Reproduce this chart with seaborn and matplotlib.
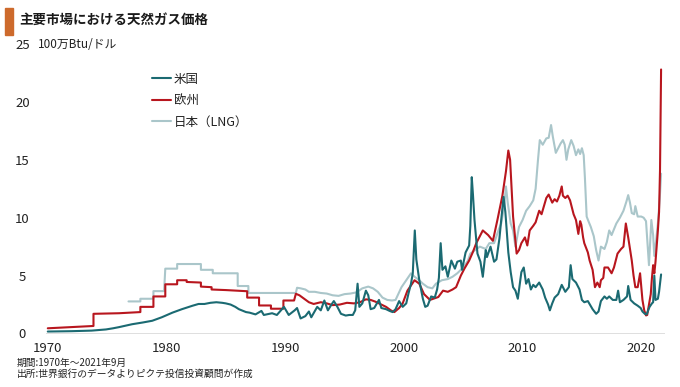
import matplotlib
matplotlib.use("Agg")
import matplotlib.pyplot as plt
from matplotlib.patches import Rectangle
import pandas as pd
import seaborn as sns

# ---------------- data ----------------
title = "主要市場における天然ガス価格"
unit_label = "100万Btu/ドル"
footer_period = "期間:1970年～2021年9月"
footer_source = "出所:世界銀行のデータよりピクテ投信投資顧問が作成"
series_names = ["米国", "欧州", "日本（LNG）"]
x_ticks = [1970, 1980, 1990, 2000, 2010, 2020]
y_ticks = [0, 5, 10, 15, 20, 25]

us_year = [1970.0, 1972.0, 1973.7, 1974.9, 1975.5, 1976.0, 1977.1, 1978.0, 1978.8, 1979.6,
           1980.5, 1981.3, 1982.2, 1982.7, 1983.2, 1983.7, 1984.2, 1984.7, 1985.0, 1985.4,
           1985.8, 1986.1, 1986.7, 1987.0, 1987.5, 1988.0, 1988.2, 1988.9, 1989.3, 1989.9,
           1990.3, 1990.8, 1991.0, 1991.3, 1991.7, 1992.0, 1992.2, 1992.7, 1993.0, 1993.3,
           1993.6, 1993.9, 1994.1, 1994.4, 1994.7, 1995.1, 1995.4, 1995.7, 1995.9, 1996.1,
           1996.25, 1996.5, 1996.8, 1997.0, 1997.2, 1997.5, 1997.9, 1998.1, 1998.5, 1998.8,
           1999.05, 1999.3, 1999.6, 1999.9, 2000.2, 2000.4, 2000.6, 2000.75, 2000.92, 2001.05,
           2001.3, 2001.6, 2001.8, 2002.0, 2002.3, 2002.6, 2002.8, 2002.95, 2003.1, 2003.25,
           2003.5, 2003.7, 2004.0, 2004.3, 2004.5, 2004.8, 2004.9, 2005.2, 2005.5, 2005.6,
           2005.72, 2005.82, 2005.95, 2006.2, 2006.45, 2006.65, 2006.9, 2007.0, 2007.3, 2007.6,
           2007.8, 2008.05, 2008.2, 2008.4, 2008.55, 2008.8, 2009.0, 2009.2, 2009.4, 2009.6,
           2009.9, 2010.1, 2010.3, 2010.5, 2010.7, 2010.9, 2011.1, 2011.4, 2011.7, 2011.9,
           2012.15, 2012.3, 2012.5, 2012.7, 2013.0, 2013.3, 2013.6, 2013.9, 2014.05, 2014.2,
           2014.5, 2014.8, 2015.0, 2015.2, 2015.5, 2015.9, 2016.2, 2016.4, 2016.6, 2016.9,
           2017.1, 2017.3, 2017.6, 2017.9, 2018.05, 2018.2, 2018.5, 2018.8, 2018.9, 2019.1,
           2019.4, 2019.7, 2019.95, 2020.1, 2020.3, 2020.45, 2020.7, 2020.9, 2021.0, 2021.1,
           2021.2, 2021.4, 2021.5, 2021.67]
us_price = [0.17, 0.2, 0.25, 0.35, 0.45, 0.55, 0.8, 0.95, 1.1, 1.4,
            1.8, 2.1, 2.4, 2.55, 2.55, 2.65, 2.7, 2.65, 2.6, 2.5,
            2.3, 2.1, 1.85, 1.8, 1.65, 1.95, 1.6, 1.75, 1.6, 2.3,
            1.6, 2.0, 2.2, 1.3, 1.5, 1.9, 1.4, 2.3, 2.0, 2.85,
            2.0, 2.5, 2.8, 2.3, 1.7, 1.55, 1.6, 1.6, 2.0, 4.3,
            2.3, 2.6, 3.7, 3.3, 2.1, 2.2, 2.9, 2.2, 2.1, 1.95,
            1.85, 2.1, 2.8, 2.3, 2.6, 3.5, 4.3, 5.2, 8.9, 6.4,
            4.6, 3.0, 2.3, 2.4, 3.2, 3.1, 3.8, 4.8, 7.8, 5.5,
            5.8, 4.9, 6.3, 5.6, 6.2, 6.3, 5.5, 7.0, 7.6, 9.3,
            13.5, 12.0, 9.8, 6.9, 6.2, 4.9, 7.2, 6.6, 7.5, 6.2,
            6.4, 8.2, 9.8, 11.8, 10.5, 7.0, 5.3, 4.0, 3.7, 3.0,
            5.3, 5.7, 4.3, 4.7, 3.8, 4.2, 4.0, 4.4, 3.8, 3.1,
            2.5, 2.0, 2.6, 3.1, 3.4, 4.2, 3.6, 4.0, 5.9, 4.7,
            4.4, 3.8, 2.9, 2.7, 2.8, 2.1, 1.7, 1.9, 2.8, 3.2,
            3.0, 3.2, 2.9, 2.9, 3.7, 2.7, 2.9, 3.2, 4.1, 2.9,
            2.6, 2.4, 2.2, 1.9, 1.7, 1.65, 2.3, 2.6, 2.7, 5.0,
            2.9, 3.0, 3.6, 5.1]

eu_year = [1970.0, 1973.0, 1973.85, 1973.85, 1976.0, 1977.8, 1977.8, 1978.9, 1978.9, 1979.9,
           1979.9, 1980.9, 1980.9, 1981.7, 1981.7, 1982.9, 1982.9, 1983.8, 1983.8, 1985.0,
           1986.8, 1986.8, 1987.8, 1987.8, 1988.8, 1988.8, 1989.85, 1989.85, 1990.75, 1990.9,
           1991.2, 1991.6, 1992.0, 1992.4, 1993.0, 1993.5, 1994.0, 1994.6, 1995.2, 1995.8,
           1996.3, 1996.8, 1997.2, 1997.6, 1998.0, 1998.5, 1998.9, 1999.2, 1999.6, 1999.9,
           2000.3, 2000.9, 2001.3, 2001.7, 2002.2, 2002.9, 2003.3, 2003.7, 2004.1, 2004.4,
           2004.8, 2005.1, 2005.5, 2005.8, 2006.1, 2006.65, 2007.1, 2007.5, 2007.9, 2008.3,
           2008.6, 2008.8, 2008.95, 2009.2, 2009.5, 2009.7, 2009.9, 2010.2, 2010.4, 2010.6,
           2010.9, 2011.1, 2011.4, 2011.6, 2011.8, 2012.0, 2012.2, 2012.5, 2012.7, 2012.9,
           2013.1, 2013.3, 2013.4, 2013.6, 2013.8, 2014.0, 2014.3, 2014.5, 2014.7, 2014.85,
           2014.95, 2015.1, 2015.2, 2015.5, 2015.65, 2015.9, 2016.1, 2016.3, 2016.5, 2016.6,
           2016.8, 2016.9, 2017.2, 2017.5, 2017.7, 2018.0, 2018.3, 2018.5, 2018.7, 2018.9,
           2019.2, 2019.35, 2019.5, 2019.7, 2019.9, 2020.1, 2020.25, 2020.4, 2020.5, 2020.65,
           2020.8, 2020.9, 2021.0, 2021.1, 2021.2, 2021.4, 2021.5, 2021.58, 2021.67]
eu_price = [0.45, 0.6, 0.65, 1.7, 1.75, 1.85, 2.3, 2.3, 3.2, 3.2,
            4.25, 4.25, 4.6, 4.6, 4.45, 4.4, 4.05, 4.0, 3.8, 3.75,
            3.65, 3.1, 3.1, 2.42, 2.42, 2.14, 2.14, 2.85, 2.85, 3.43,
            3.3, 3.0, 2.7, 2.55, 2.7, 2.6, 2.45, 2.5, 2.65, 2.6,
            2.7, 2.95, 2.9, 2.75, 2.55, 2.3, 2.0, 1.85, 2.2, 2.6,
            3.7, 4.6, 4.3, 3.4, 2.9, 3.15, 3.7, 3.6, 3.8, 4.0,
            5.0, 5.6, 6.3, 7.0, 7.8, 8.9, 8.5, 8.0, 9.9, 11.9,
            14.0, 15.8, 15.0, 10.1, 6.9, 7.2, 7.8, 8.3, 7.6, 8.9,
            9.3, 9.6, 10.6, 10.3, 11.0, 11.7, 12.0, 11.3, 11.6, 11.4,
            11.9, 12.7, 11.9, 11.7, 11.9, 11.5, 10.3, 9.8, 8.6, 9.7,
            9.4, 8.3, 7.8, 7.0, 6.3, 5.5, 4.0, 4.4, 4.0, 4.6,
            4.8, 5.7, 5.7, 5.2, 5.7, 6.9, 7.3, 7.5, 9.5, 8.3,
            6.3, 5.0, 4.0, 4.0, 5.2, 2.9, 2.0, 1.56, 1.6, 2.5,
            3.4, 4.8, 5.9, 5.2, 6.2, 8.9, 10.5, 14.1, 22.8]

jp_year = [1976.8, 1977.8, 1977.8, 1978.9, 1978.9, 1979.8, 1979.9, 1980.9, 1980.9, 1982.9,
           1982.9, 1983.9, 1983.9, 1986.0, 1986.0, 1986.9, 1986.9, 1990.9, 1991.0, 1991.3,
           1991.7, 1992.0, 1992.5, 1993.0, 1993.5, 1994.0, 1994.5, 1995.0, 1995.5, 1996.0,
           1996.5, 1997.0, 1997.4, 1997.8, 1998.2, 1998.6, 1999.0, 1999.3, 1999.8, 2000.6,
           2000.9, 2001.3, 2001.6, 2002.0, 2002.4, 2002.7, 2003.2, 2003.7, 2004.1, 2004.5,
           2005.0, 2005.4, 2005.6, 2006.0, 2006.4, 2006.9, 2007.2, 2007.6, 2008.0, 2008.2,
           2008.45, 2008.6, 2008.75, 2009.0, 2009.2, 2009.4, 2009.7, 2010.0, 2010.3, 2010.6,
           2010.9, 2011.1, 2011.3, 2011.45, 2011.7, 2012.0, 2012.2, 2012.4, 2012.55, 2012.8,
           2013.0, 2013.2, 2013.4, 2013.55, 2013.7, 2013.85, 2014.1, 2014.3, 2014.5, 2014.7,
           2014.85, 2015.0, 2015.15, 2015.25, 2015.4, 2015.55, 2015.75, 2016.0, 2016.2, 2016.4,
           2016.6, 2016.9, 2017.1, 2017.3, 2017.5, 2017.7, 2017.9, 2018.2, 2018.5, 2018.75,
           2018.9, 2019.05, 2019.2, 2019.4, 2019.5, 2019.7, 2020.0, 2020.2, 2020.4, 2020.55,
           2020.65, 2020.75, 2020.85, 2021.0, 2021.1, 2021.25, 2021.4, 2021.55, 2021.67]
jp_price = [2.77, 2.77, 3.0, 3.0, 3.66, 3.66, 5.6, 5.6, 6.0, 6.0,
            5.5, 5.5, 5.2, 5.2, 4.1, 4.1, 3.5, 3.5, 3.95, 3.9,
            3.8, 3.6, 3.6, 3.5, 3.45, 3.3, 3.25, 3.4, 3.45, 3.55,
            3.9, 4.05, 3.9, 3.6, 3.1, 2.9, 2.85, 2.9, 4.0, 5.2,
            4.9, 4.6, 4.3, 4.0, 3.9, 4.3, 4.6, 4.7, 4.9, 5.2,
            5.7, 6.3, 6.9, 7.2, 7.5, 7.3, 7.8, 7.8, 9.0, 9.5,
            11.0, 12.7, 11.3, 9.5, 8.9, 7.5, 9.2, 9.8, 10.6, 11.0,
            11.5, 12.5, 15.0, 16.7, 16.3, 16.85, 16.9, 18.0, 17.0, 15.6,
            16.0, 16.4, 16.7, 16.3, 15.0, 15.9, 16.7, 16.2, 15.4, 15.9,
            15.5, 16.0, 15.4, 13.5, 10.1, 9.7, 9.2, 8.4, 7.2, 6.3,
            7.5, 7.3, 7.9, 8.9, 8.5, 9.0, 9.5, 10.0, 10.6, 11.4,
            11.95, 11.3, 10.4, 10.3, 11.0, 10.1, 10.1, 10.0, 9.7, 7.5,
            5.9, 7.8, 9.8, 8.5, 6.7, 8.0, 9.5, 11.5, 13.8]

colors = {"米国": "#1b6a72", "欧州": "#b8161e", "日本（LNG）": "#aac6ca"}

# ---------------- build table ----------------
frames = []
for name, yrs, vals in [(series_names[0], us_year, us_price),
                        (series_names[1], eu_year, eu_price),
                        (series_names[2], jp_year, jp_price)]:
    frames.append(pd.DataFrame({"year": yrs, "price": vals, "market": name}))
df = pd.concat(frames, ignore_index=True)

# ---------------- plot ----------------
sns.set_theme(style="white")
plt.rcParams["font.family"] = ["Noto Sans CJK JP", "DejaVu Sans"]

W, H = 680, 387
fig = plt.figure(figsize=(W / 100, H / 100), dpi=100)
left, right, bottom, top = 46, 665, 333.5, 44
ax = fig.add_axes([left / W, 1 - bottom / H, (right - left) / W, (bottom - top) / H])

ax.axhline(0, color="#dcdcdc", lw=1.3, zorder=0)
# draw Japan first (behind), then Europe, then US on top
draw_order = [series_names[2], series_names[1], series_names[0]]
for name in draw_order:
    sns.lineplot(data=df[df["market"] == name], x="year", y="price",
                 color=colors[name], estimator=None, sort=False,
                 linewidth=1.5, ax=ax, legend=False, label=name)

ax.set_xlim(1969.85, 2022.0)
ax.set_ylim(0, 25)
ax.set_xticks(x_ticks)
ax.set_yticks(y_ticks)
ax.set_xlabel("")
ax.set_ylabel("")
for s in ax.spines.values():
    s.set_visible(False)
ax.tick_params(axis="both", length=0, labelsize=9.5, labelcolor="#222222")
ax.tick_params(axis="x", pad=6)
ax.tick_params(axis="y", pad=17)
for lab in ax.get_yticklabels():
    lab.set_horizontalalignment("center")

handles, labels = ax.get_legend_handles_labels()
order = [labels.index(n) for n in series_names]
leg = ax.legend([handles[i] for i in order], [labels[i] for i in order],
                loc="upper left", bbox_to_anchor=(152 / W, 1 - 72.5 / H),
                bbox_transform=fig.transFigure, frameon=False, fontsize=9,
                handlelength=1.55, handletextpad=0.2, labelspacing=0.68,
                borderpad=0, borderaxespad=0)
for t in leg.get_texts():
    t.set_color("#222222")

# title block
fig.patches.append(Rectangle((5 / W, 1 - 35 / H), 8 / W, 27 / H,
                             transform=fig.transFigure, color="#cd6a2c"))
fig.text(19 / W, 1 - 20 / H, title, fontsize=9.7, fontweight="bold",
         va="center", ha="left", color="#1a1a1a")
fig.text(38 / W, 1 - 45 / H, unit_label, fontsize=8.5, va="center",
         ha="left", color="#222222")
fig.text(17 / W, 1 - 363 / H, footer_period, fontsize=7, va="center",
         ha="left", color="#222222")
fig.text(17 / W, 1 - 373.5 / H, footer_source, fontsize=7, va="center",
         ha="left", color="#222222")

fig.savefig("out.png", dpi=100)
